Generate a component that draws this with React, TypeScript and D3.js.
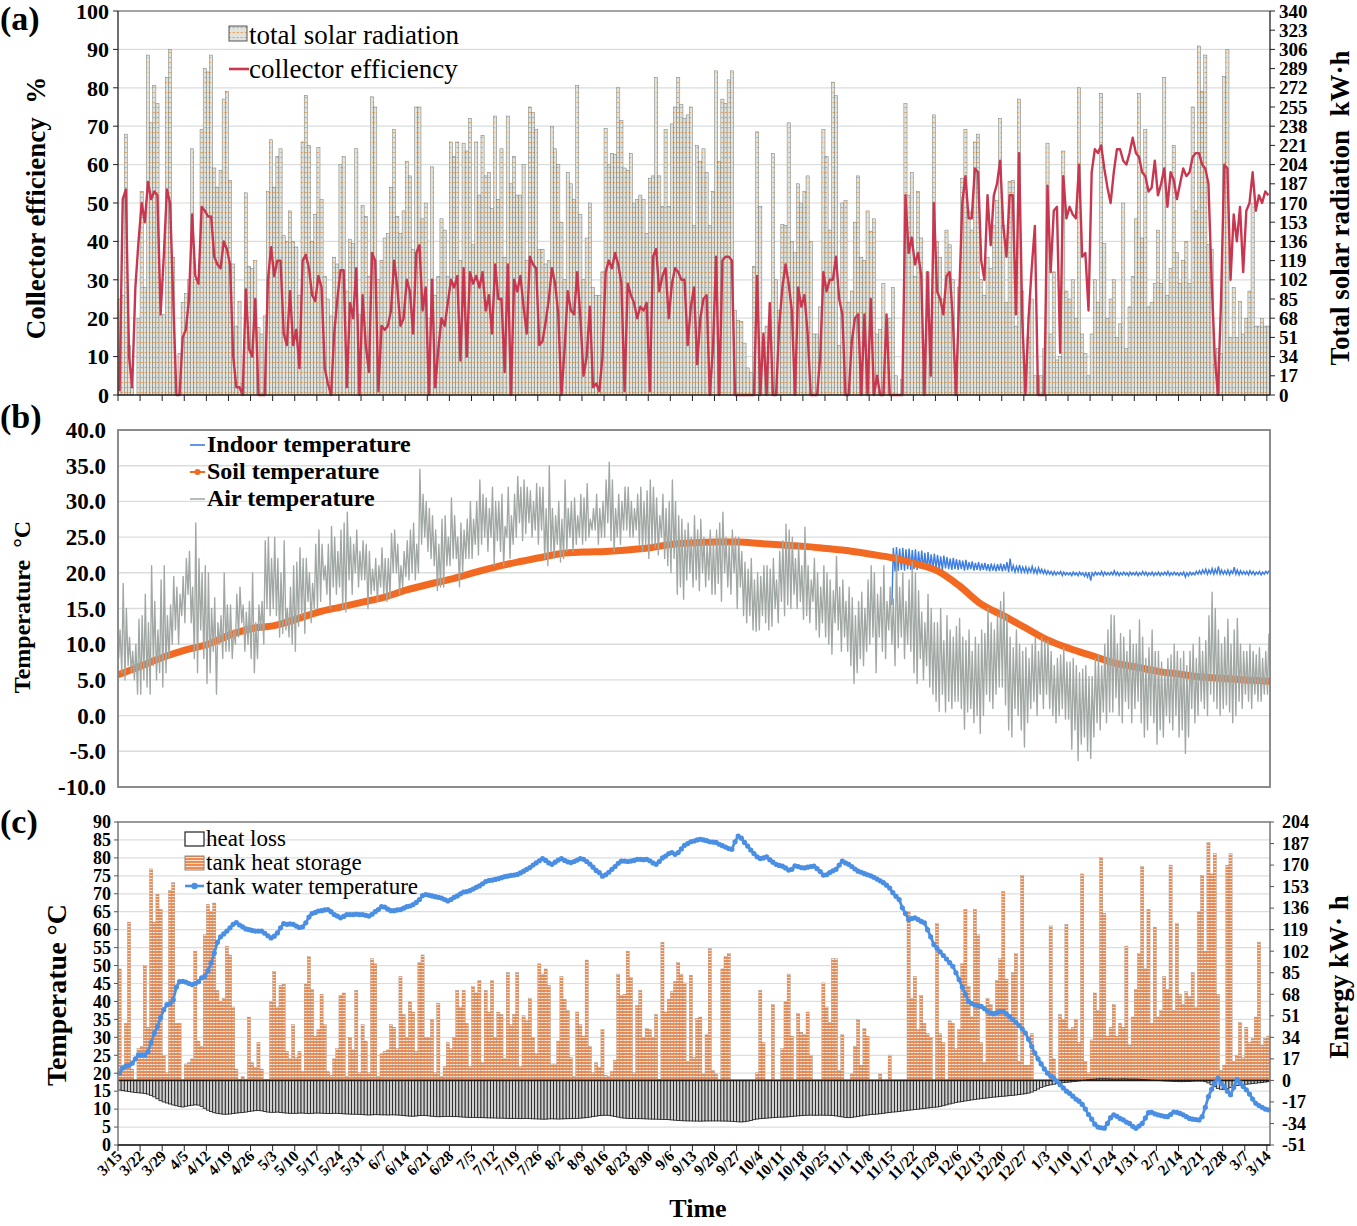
import * as d3 from "d3";

// ---------- tick labels ----------
const dateLabels = [
  "3/15", "3/22", "3/29", "4/5", "4/12", "4/19", "4/26", "5/3", "5/10", "5/17", "5/24", "5/31",
  "6/7", "6/14", "6/21", "6/28", "7/5", "7/12", "7/19", "7/26", "8/2", "8/9", "8/16", "8/23",
  "8/30", "9/6", "9/13", "9/20", "9/27", "10/4", "10/11", "10/18", "10/25", "11/1", "11/8",
  "11/15", "11/22", "11/29", "12/6", "12/13", "12/20", "12/27", "1/3", "1/10", "1/17", "1/24",
  "1/31", "2/7", "2/14", "2/21", "2/28", "3/7", "3/14",
];
const efficiencyTicks = [0, 10, 20, 30, 40, 50, 60, 70, 80, 90, 100];
const solarTicks = [0, 17, 34, 51, 68, 85, 102, 119, 136, 153, 170, 187, 204, 221, 238, 255, 272, 289, 306, 323, 340];
const tempTicks = [-10, -5, 0, 5, 10, 15, 20, 25, 30, 35, 40];
const tankTicks = [0, 5, 10, 15, 20, 25, 30, 35, 40, 45, 50, 55, 60, 65, 70, 75, 80, 85, 90];
const energyTicks = [-51, -34, -17, 0, 17, 34, 51, 68, 85, 102, 119, 136, 153, 170, 187, 204];

// ---------- (a) daily total solar radiation, kW·h (3/15 .. 3/14) ----------
const solarRadiation = [
  85, 88, 231, 44, 7, 0, 68,
  180, 95, 301, 241, 274, 258, 71,
  71, 281, 306, 122, 0, 37, 82,
  90, 102, 218, 102, 99, 235, 289,
  286, 301, 201, 184, 199, 262, 269,
  190, 116, 61, 83, 10, 179, 114,
  112, 119, 60, 54, 70, 180, 226,
  184, 211, 218, 141, 136, 163, 136,
  131, 88, 224, 265, 221, 136, 160,
  219, 173, 105, 85, 70, 122, 116,
  204, 211, 92, 138, 134, 218, 71,
  168, 158, 105, 264, 255, 102, 119,
  139, 143, 184, 235, 158, 143, 163,
  207, 194, 129, 255, 255, 156, 170,
  68, 202, 88, 105, 156, 146, 105,
  224, 211, 224, 119, 223, 216, 245,
  133, 224, 177, 230, 194, 197, 165,
  247, 173, 218, 122, 247, 187, 211,
  177, 177, 204, 119, 255, 250, 235,
  129, 129, 116, 119, 238, 218, 204,
  153, 102, 197, 187, 173, 274, 160,
  102, 139, 170, 95, 88, 88, 109,
  236, 204, 214, 213, 272, 243, 201,
  199, 214, 170, 173, 177, 173, 143,
  192, 194, 281, 194, 167, 235, 167,
  240, 255, 281, 257, 245, 248, 255,
  150, 221, 207, 218, 197, 150, 180,
  287, 207, 262, 258, 279, 287, 75,
  66, 65, 46, 24, 20, 114, 233,
  167, 34, 61, 66, 214, 102, 75,
  151, 150, 241, 136, 126, 187, 170,
  180, 194, 136, 54, 54, 78, 235,
  211, 146, 277, 265, 44, 170, 172,
  82, 92, 153, 194, 122, 119, 163,
  145, 156, 54, 58, 99, 48, 68,
  95, 17, 0, 14, 258, 177, 197,
  105, 180, 139, 20, 109, 27, 248,
  136, 122, 85, 146, 133, 102, 34,
  95, 192, 235, 163, 146, 224, 231,
  102, 88, 122, 112, 150, 172, 245,
  150, 82, 189, 190, 61, 262, 92,
  0, 51, 85, 17, 17, 17, 41,
  223, 54, 109, 31, 34, 216, 92,
  85, 102, 68, 272, 54, 37, 17,
  54, 102, 82, 267, 134, 68, 85,
  102, 51, 63, 170, 41, 78, 105,
  156, 267, 139, 235, 78, 82, 99,
  146, 99, 281, 88, 112, 221, 126,
  99, 119, 136, 99, 255, 163, 309,
  269, 301, 133, 129, 27, 41, 37,
  282, 306, 51, 95, 51, 83, 54,
  68, 92, 170, 61, 61, 68, 61,
  61,
];

// ---------- (a) daily collector efficiency, % ----------
const collectorEfficiency = [
  1, 51, 53.5, 10, 2, 28, 40,
  50, 45, 55.5, 51, 53, 52, 21,
  36, 53.5, 50, 25, 0, 0, 15,
  17, 25, 47, 31, 29, 49, 48,
  46.5, 46.5, 36, 34, 33, 40, 38,
  34, 10, 2, 2, 0, 27.5, 12,
  10, 25, 0, 0, 0, 30, 38.5,
  31, 35, 35, 16, 13, 27, 13,
  17, 7, 35, 36.5, 33, 26, 24.5,
  31, 28, 7, 3, 0, 16, 25,
  32.5, 32.5, 2, 24, 20, 33, 0,
  26, 13, 6, 37, 35, 1, 18,
  17, 18, 22, 35, 28, 18, 20,
  30, 27, 16, 37, 39, 22, 28,
  0, 30, 2, 12, 20, 18, 24,
  30, 28, 31, 9, 33, 10, 32,
  29, 31, 28, 32, 22, 26, 16,
  34, 25, 25, 6, 34, 0, 30,
  27, 31, 23, 16, 36, 34, 33,
  13, 14, 19, 25, 33, 29, 21,
  0, 12, 27, 22, 21, 32, 20,
  5, 10, 23, 2, 3, 1, 10,
  32, 35, 33, 37, 34, 29, 1,
  29, 26, 24, 20, 23, 22, 24,
  1, 36, 38, 27, 31, 33, 20,
  29, 33, 32, 30, 30, 13, 23,
  28, 8, 20, 25, 26, 0, 12,
  36, 0, 35, 36, 36, 35, 0,
  0, 0, 0, 0, 0, 0, 31,
  0, 16, 0, 24, 0, 0, 18,
  28, 34, 29, 22, 0, 28, 23,
  26, 16, 0, 0, 0, 10, 32,
  27, 30, 30, 36, 25, 21, 0,
  0, 14, 20, 21, 0, 21, 0,
  25, 0, 5, 0, 0, 21, 0,
  0, 0, 0, 0, 52, 37, 41,
  34, 37, 31, 0, 32, 5, 50,
  27, 25, 21, 31, 32, 20, 0,
  25, 50, 57, 46, 46, 59, 58,
  35, 30, 52, 39, 52, 55, 61,
  44, 36, 52, 52, 21, 63, 20,
  0, 20, 33, 44, 0, 0, 0,
  54.5, 32, 48, 49, 11, 57, 46,
  49, 47, 46, 60, 36, 37, 22,
  58, 64, 63, 65, 59, 54, 50,
  58, 64, 64, 61, 60, 63, 67,
  63, 62, 58, 57, 53, 54, 61,
  52, 55, 59, 49, 58, 56, 51,
  55, 59, 57, 58, 62, 63, 63,
  60, 59, 55, 30, 10, 0, 25,
  60, 59, 30, 47, 40, 49, 32,
  48, 50, 58, 48, 52, 50, 53,
  52,
];

// ---------- (b) air temperature, daily high / low, °C ----------
const airHigh = [
  12, 18.5, 15, 11, 9, 10, 13.5,
  14, 17, 13, 21, 16, 12, 19,
  21, 14, 15.5, 19.5, 18, 17, 19.5,
  22, 23, 18, 27, 22, 20, 21,
  20, 15, 16.5, 13, 14, 20, 15.5,
  15.5, 12, 17, 18, 15.5, 14.5, 16,
  20, 13, 15.5, 16, 24.5, 25, 22,
  25, 22, 20, 24.5, 15, 18, 21,
  21.5, 23.5, 22, 22, 20, 18.5, 24,
  26, 24, 21, 24, 26.5, 25, 23,
  26, 27, 28.5, 25, 24, 26, 23,
  24.5, 24, 23, 20.5, 22, 21, 23.5,
  22, 22, 25.5, 26, 24, 21, 23,
  24.5, 26, 27, 24, 34.5, 31, 30,
  29, 28, 26, 24, 27.5, 28, 25,
  30.5, 28, 25, 27, 26, 27.5, 30,
  27.5, 30, 33, 31, 30.5, 29, 32,
  30, 30, 31, 26.5, 32, 28, 31,
  33.5, 32, 33, 32, 31.5, 30, 32.5,
  32, 32, 29, 35, 29, 28, 30,
  27.5, 33, 29, 30, 30.5, 28, 31,
  30.5, 32.5, 27.5, 29, 31, 29, 30,
  33, 35.5, 33, 29, 31, 30, 32,
  32, 30, 29, 31, 32, 30, 31.5,
  33, 32, 30.5, 28, 31, 29, 30,
  33, 30, 28, 27.5, 26, 27, 25,
  28, 26, 27.5, 25, 24, 26, 24.5,
  26, 27, 28.5, 25, 24, 26, 25,
  25, 23, 21.5, 20.5, 22, 19, 20,
  19.5, 21, 21, 20.5, 22, 19, 23,
  24.5, 26.8, 26, 25, 22, 24, 21,
  26.4, 21, 19, 22, 20, 18, 21,
  20, 19, 17.5, 22.3, 18, 19, 16,
  18, 16.5, 14, 16, 17.3, 15, 19,
  21, 20, 17, 18, 21, 16, 18,
  16.3, 22.5, 18, 20, 16, 19, 21.5,
  20, 17.5, 14.5, 13, 17, 15, 13,
  13, 15, 10.5, 14, 12, 11, 12.5,
  13.6, 11, 10.5, 12, 9, 11, 10,
  12, 11.5, 15, 13, 12, 14, 16,
  17.3, 14, 11, 9.5, 12, 10, 9,
  9.5, 8, 10, 10.9, 9, 11, 10.5,
  10.5, 9, 7, 8, 8.5, 9.5, 7.5,
  7.5, 8, 7, 6, 6.5, 7, 5.5,
  5.5, 8, 8.5, 7, 10, 12, 14.1,
  14, 10, 11.5, 11, 9, 12, 10,
  10, 13.4, 11, 8, 9.5, 12, 9,
  9, 7.5, 6.5, 8, 8.5, 10, 9,
  8, 9, 7, 9, 10, 8, 11,
  9, 10.5, 14, 17.3, 15, 12, 10,
  11, 13.5, 10, 12, 13.6, 10, 9,
  9, 10, 9, 8.5, 9.5, 8, 9,
  11.5,
];
const airLow = [
  8, 6, 5, 7, 6, 5, 3,
  3, 5, 4, 3, 7, 5, 6,
  4, 6, 8, 10, 12, 10, 14,
  13, 17, 13, 8, 6, 12, 8,
  4.5, 6, 9, 3, 10, 8, 9,
  9, 8, 10, 11, 13, 9, 10,
  8, 6, 8, 12, 10, 15, 14,
  15, 14, 11, 11.5, 12, 11, 10,
  9, 12.5, 14, 11.5, 16, 13, 15,
  15, 16, 19, 17, 15, 18, 17,
  18, 15, 14.5, 19, 17, 20, 18,
  19, 19, 15, 17, 17.5, 16, 18,
  17, 16, 16.5, 20, 20, 17, 18,
  19.5, 19, 20, 19, 20, 24, 25,
  23, 22, 21, 17.5, 18, 18, 21,
  21, 22, 22, 18, 20, 22, 22,
  22, 24, 22.5, 24, 25, 23, 25,
  21, 24.5, 23, 21, 25, 22, 24,
  25, 27, 24.5, 25.5, 27, 25, 26,
  24, 26, 22, 21, 23, 22, 24,
  21.5, 22, 23, 25, 23, 24, 25,
  24, 24.5, 25, 26, 26, 24, 25,
  25, 27, 24.5, 23, 25, 24, 26,
  26, 25, 25, 26, 24, 23, 24,
  22, 24, 23.5, 22.5, 25, 22, 21,
  20, 22, 17, 18, 16.3, 19, 20,
  18, 19, 17.5, 20, 18, 19, 17,
  17, 18.5, 16, 20, 18, 17, 20,
  15, 18, 14, 13, 14, 12, 11.8,
  12, 14, 13, 12, 12.5, 15, 13,
  16, 14, 15.5, 15, 17, 15, 16,
  13.5, 14, 13, 16, 12, 11, 13,
  11, 10, 8.6, 13, 12, 9, 11,
  9, 7, 4.5, 6, 8, 7, 9,
  10, 11, 6, 11, 9, 8, 12,
  10, 7, 9.5, 11, 8, 10, 9,
  6, 4.5, 8, 5, 7, 4, 3,
  2, 0.6, 3, 0.5, 2, 1, 2,
  2, 1, -1.9, 0.5, 1, -1, 0,
  -2.5, 0, 3, 2, 1, 3, 4,
  4, 1.5, -2, -3, 1, 0, -2,
  -4.4, -1, 1, 2, 0, 3, 1,
  3, 1, 0, -1, 0, 1, -0.5,
  -0.5, -4.7, -2, -6.3, -4, -3, -5,
  -6, -3, -1, -2, 0.5, -1, 0.5,
  0.5, 2.5, 0, -1, 2, 1, -1,
  1, 2, -1, -3, -2, 0, -1,
  -4, -2, -3, 0, -1, -2, 0,
  -3, -2, -5.3, -3, 1, -1, 0,
  2, 1, 0, 3, 2, 1, 0,
  1, 1.5, 0.5, -1, 0, 2, 1,
  3, 2, 1, 3, 2, 2, 3,
  3,
];

// ---------- (b) soil temperature, read at each weekly tick, °C ----------
const soilWeekly = [
  5.8, 7, 8.2, 9.2, 10, 11.3, 12.2, 12.6, 13.5, 14.5, 15.2, 15.9, 16.6, 17.6, 18.4, 19.1,
  20, 20.8, 21.5, 22.1, 22.7, 22.9, 23, 23.2, 23.5, 24, 24.2, 24.3, 24.3, 24.1, 23.9, 23.7,
  23.4, 23.1, 22.6, 22.1, 21.3, 20.3, 18.2, 15.6, 14, 12.3, 10.6, 9.4, 8.4, 7.4, 6.8, 6.2,
  5.8, 5.4, 5.2, 5, 4.8,
];

// ---------- (b) indoor temperature from 11/15, daily high / low, °C ----------
const indoorStart = 245;
const indoorHigh = [
  23.5,
  23.6, 23.4, 23.5, 23.3, 23.4, 23.2,
  23.3, 23, 23.1, 22.8, 22.9, 22.6, 22.7,
  22.5, 22.3, 22.4, 22.2, 22, 22.1, 21.9,
  21.8, 21.7, 21.8, 21.5, 21.6, 21.4, 21.5,
  21.3, 21.4, 21.2, 21.3, 21.1, 21.2, 21.3,
  21.2, 21.5, 22, 21, 20.9, 21.1, 20.8,
  20.8, 20.7, 20.9, 20.6, 20.7, 20.5, 20.4,
  20.3, 20.2, 20.2, 20.1, 20.2, 20.1, 20,
  20, 20.1, 20, 20.1, 20, 20, 20.1,
  20, 20.1, 20, 20.2, 20.1, 20, 20.1,
  20.3, 20.1, 20, 20.1, 20, 20.1, 20,
  20.1, 20, 20.2, 20.1, 20, 20.1, 20,
  20.1, 20, 20.1, 20.2, 20, 20.1, 20,
  20, 20.1, 20, 20.1, 20, 20.2, 20.3,
  20.4, 20.5, 20.4, 20.6, 20.5, 20.9, 20.4,
  20.3, 20.4, 20.3, 20.8, 20.4, 20.3, 20.2,
  20.2, 20.3, 20.2, 20.1, 20.2, 20.1, 20.2, 20.3,
];
const indoorLow = [
  15.5,
  20.2, 20.3, 20.4, 20.3, 20.5, 20.4,
  20.5, 20.4, 20.6, 20.5, 20.4, 20.6, 20.5,
  20.6, 20.5, 20.4, 20.6, 20.5, 20.4, 20.5,
  20.4, 20.5, 20.3, 20.4, 20.5, 20.3, 20.4,
  20.3, 20.4, 20.3, 20.2, 20.3, 20.2, 20.3,
  20.2, 20.3, 20.1, 20.2, 20.1, 20.2, 20.1,
  20.1, 20, 20.1, 20, 19.9, 20, 19.9,
  19.8, 19.8, 19.7, 19.7, 19.8, 19.6, 19.7,
  19.7, 19.6, 19.7, 19.6, 19.7, 19.5, 19.4,
  18.9, 19.6, 19.7, 19.7, 19.6, 19.7, 19.7,
  19.7, 19.7, 19.6, 19.7, 19.7, 19.6, 19.7,
  19.7, 19.6, 19.7, 19.7, 19.6, 19.7, 19.6,
  19.7, 19.6, 19.7, 19.7, 19.6, 19.7, 19.7,
  19.6, 19.7, 19.4, 19.6, 19.7, 19.7, 19.8,
  19.8, 19.9, 19.8, 19.9, 19.8, 19.9, 19.8,
  19.8, 19.8, 19.7, 19.9, 19.8, 19.7, 19.8,
  19.8, 19.7, 19.8, 19.7, 19.8, 19.7, 19.8, 19.9,
];

// ---------- (c) daily tank heat storage, kW·h ----------
const heatStorage = [
  88, 9, 45, 125, 9, 0, 25,
  27, 91, 42, 167, 125, 147, 135,
  20, 6, 150, 156, 45, 45, 0,
  13, 14, 17, 102, 31, 27, 115,
  139, 133, 140, 71, 62, 65, 106,
  99, 58, 9, 1, 3, 1, 50,
  14, 10, 30, 9, 1, 1, 62,
  86, 58, 75, 76, 23, 17, 44,
  18, 23, 7, 76, 98, 72, 35,
  40, 68, 44, 7, 4, 17, 25,
  67, 69, 3, 34, 24, 71, 6,
  44, 31, 6, 96, 92, 3, 21,
  23, 24, 44, 42, 25, 82, 52,
  34, 62, 54, 23, 93, 99, 34,
  34, 48, 6, 61, 3, 11, 30,
  25, 34, 71, 58, 71, 45, 11,
  74, 69, 79, 14, 71, 54, 79,
  34, 54, 52, 17, 85, 44, 52,
  85, 11, 51, 47, 65, 34, 21,
  92, 84, 88, 75, 13, 13, 31,
  82, 64, 55, 18, 3, 54, 44,
  35, 95, 27, 6, 14, 10, 40,
  4, 3, 7, 16, 84, 67, 68,
  102, 81, 6, 59, 71, 34, 41,
  40, 34, 52, 1, 109, 54, 64,
  70, 78, 93, 84, 77, 15, 83,
  18, 49, 50, 5, 36, 104, 8,
  5, 0, 88, 98, 100, 0, 0,
  0, 0, 0, 0, 0, 0, 6,
  71, 30, 0, 0, 60, 0, 0,
  25, 62, 84, 35, 0, 53, 38,
  36, 54, 20, 0, 0, 0, 77,
  58, 46, 96, 96, 8, 36, 0,
  0, 5, 27, 48, 12, 41, 35,
  0, 0, 0, 5, 0, 0, 20,
  0, 0, 0, 0, 0, 133, 65,
  82, 40, 67, 45, 37, 34, 0,
  124, 37, 30, 0, 47, 45, 25,
  40, 92, 135, 74, 50, 135, 115,
  30, 14, 65, 60, 52, 79, 96,
  149, 80, 48, 85, 100, 15, 162,
  12, 12, 37, 0, 0, 0, 0,
  0, 122, 17, 0, 52, 48, 123,
  40, 42, 48, 30, 163, 15, 6,
  32, 69, 55, 176, 132, 35, 42,
  60, 35, 45, 42, 106, 28, 50,
  72, 100, 169, 88, 135, 45, 121,
  50, 55, 82, 72, 170, 55, 124,
  68, 60, 70, 66, 85, 58, 133,
  162, 102, 188, 163, 179, 68, 8,
  12, 170, 179, 15, 20, 46, 18,
  42, 30, 33, 50, 109, 28, 33,
  35,
];

// ---------- (c) daily heat loss, kW·h ----------
const heatLoss = [
  -7.6, -8, -8.4, -8.8, -9.2, -9.6, -9.8,
  -10, -10.4, -10.8, -11.8, -13, -14.5, -16,
  -17, -17.8, -18.6, -19.4, -20, -20.6, -21,
  -20.4, -20, -19.6, -19.3, -19.5, -20.5, -22,
  -23.5, -24.6, -25.5, -26, -26.4, -26.7, -26.7,
  -26.5, -26.2, -25.8, -25.5, -25.3, -25, -24.6,
  -24.2, -23.9, -23.8, -24, -24.5, -25, -25.2,
  -25.2, -25, -25.3, -25.6, -25.8, -26, -26,
  -26, -25.8, -25.8, -26, -26.1, -26, -25.8,
  -25.8, -25.9, -26, -26.1, -26.2, -26, -26,
  -26.2, -26.4, -26.5, -26.6, -26.7, -26.7, -26.8,
  -27, -27.2, -27.3, -27.2, -27, -27.1, -27.2,
  -27.2, -27.3, -27.2, -27.2, -27.3, -27.5, -27.8,
  -28, -28.2, -28.3, -28.1, -27.8, -27.7, -27.8,
  -28, -28.3, -28.5, -28.7, -28.6, -28.5, -28.4,
  -28.5, -28.6, -28.6, -28.8, -29, -29.1, -29.2,
  -29.2, -29.3, -29.4, -29.4, -29.5, -29.6, -29.6,
  -29.7, -29.8, -29.8, -29.9, -30, -30, -30.1,
  -30.1, -30.2, -30.1, -30.1, -30.2, -30.3, -30.4,
  -30.5, -30.6, -30.6, -30.4, -30.3, -30.4, -30.5,
  -30.4, -30.3, -30.2, -30.2, -30.1, -30, -29.8,
  -29.6, -29.4, -29, -28.6, -28.2, -27.8, -27.6,
  -27.5, -27.6, -28, -28.5, -29, -29.5, -29.8,
  -30, -30.1, -30.1, -30.2, -30.2, -30.3, -30.4,
  -30.5, -30.6, -30.6, -30.7, -30.8, -30.9, -31,
  -31.2, -31.4, -31.6, -31.8, -31.9, -32, -32,
  -32.1, -32.1, -32.2, -32.1, -32, -32, -32,
  -32, -32, -32.1, -32.1, -32.2, -32.3, -32.5,
  -32.7, -32.8, -32.6, -32.2, -31.6, -31, -30.5,
  -30.2, -30, -29.8, -29.6, -29.4, -29.2, -29,
  -29, -28.9, -28.7, -28.5, -28.2, -28, -27.8,
  -27.6, -27.5, -27.4, -27.5, -27.5, -27.4, -27.5,
  -27.5, -27.6, -27.7, -28, -28.4, -28.8, -29.2,
  -29.4, -29.2, -28.8, -28.4, -28, -27.6, -27.3,
  -27, -26.8, -26.6, -26.3, -26, -25.6, -25.3,
  -25, -24.8, -24.5, -24.2, -23.9, -23.6, -23.3,
  -23, -22.7, -22.4, -22.1, -21.8, -21.5, -21.2,
  -21, -20.5, -20, -19.3, -18.6, -18, -17.5,
  -17, -16.6, -16.2, -15.8, -15.4, -15, -14.7,
  -14.4, -14.1, -13.8, -13.5, -13.2, -13, -12.8,
  -12.5, -12.3, -12, -11.8, -11.5, -11.2, -10.8,
  -10.5, -10, -9.2, -8, -6.8, -5.5, -4.6,
  -4, -3.5, -3, -2.6, -2.2, -1.8, -1.5,
  -1.3, -1, -0.7, -0.4, -0.1, 0.2, 0.5,
  0.8, 1, 1.2, 1.3, 1.3, 1.2, 1.1,
  1, 1, 1.1, 1.2, 1.1, 1, 1,
  1, 0.9, 0.8, 0.6, 0.4, 0.2, 0.1,
  0, -0.2, -0.4, -0.5, -0.6, -0.8, -0.9,
  -1, -1, -0.9, -0.8, -0.6, -0.5, -0.5,
  -0.5, -1, -2, -3.5, -5, -6.3, -7,
  -7, -6.5, -5.5, -4.5, -4, -3.8, -3.4,
  -3, -2.8, -2.5, -2.2, -1.9, -1.6, -1.3,
  -1,
];

// ---------- (c) daily tank water temperature, °C ----------
const tankTemp = [
  20, 21.5, 22, 22.2, 22.8, 24, 25.1,
  25.1, 25.1, 26, 28.5, 31.2, 33, 35.5,
  37.7, 39.1, 39.4, 40.5, 44, 45.5, 45.6,
  45.4, 45, 44.7, 45, 45.5, 46.6, 47,
  48.5, 50.7, 53.5, 56.5, 58, 58.8, 59.6,
  60.5, 61.5, 62, 61.3, 60.8, 60.2, 60,
  59.8, 59.6, 59.6, 59.6, 59, 58.3, 57.7,
  58.2, 59.1, 60.5, 61.7, 61.5, 61.6, 61.5,
  61, 60.6, 60.8, 61.9, 63.5, 64.5, 64.8,
  65.2, 65.3, 65.5, 65.6, 65, 64.2, 63.8,
  63.3, 63.7, 64.2, 64.2, 64.2, 64.3, 64.2,
  64.2, 64, 63.8, 64.3, 65, 65.6, 66.4,
  66.3, 65.7, 65.3, 65.3, 65.5, 65.6, 66,
  66.4, 66.6, 67, 67.6, 68.4, 69.5, 69.8,
  69.6, 69.4, 69.2, 69, 68.8, 68.4, 68,
  68.4, 69, 69.4, 70, 70.5, 70.6, 70.9,
  71.3, 71.8, 72.2, 72.8, 73.4, 73.7, 73.8,
  74, 74.2, 74.5, 74.8, 74.9, 75.1, 75.2,
  75.4, 75.8, 76.3, 76.8, 77.3, 78, 78.6,
  79.2, 79.8, 79.3, 78.6, 78.2, 78.8, 79.4,
  79.8, 79.3, 78.9, 78.7, 79, 79.4, 79.8,
  79.6, 79, 78.3, 77.4, 76.5, 75.9, 74.9,
  75.3, 76, 76.8, 77.6, 78.5, 79.1, 79.1,
  79, 79.1, 79.3, 79.6, 79.6, 79.5, 79.6,
  79.2, 78.6, 78.2, 79, 80, 80.5, 81.2,
  81.5, 81, 81.5, 82.5, 83.5, 84, 84.5,
  84.7, 85, 85.2, 85, 84.8, 84.5, 84.4,
  84.3, 83.8, 83.4, 83, 82.6, 82.4, 84.5,
  86.1, 85.5, 84.3, 83.3, 82.2, 81.2, 80.3,
  79.8, 80, 80.3, 79.5, 78.8, 78.2, 77.9,
  77.7, 77.2, 76.6, 76.8, 77.8, 77.6, 77.3,
  77.2, 77.4, 77.6, 77.7, 77, 76.2, 75.2,
  75.3, 75.9, 76.4, 76.8, 78, 79.1, 78.6,
  78.2, 77.6, 76.9, 76.3, 76, 75.6, 75.3,
  75, 74.6, 74.1, 73.6, 73.1, 72.4, 71.6,
  70.3, 69.3, 68.4, 66.1, 64.5, 62.8, 63.1,
  63.3, 62.8, 62.3, 61.9, 60, 58, 55.9,
  54.8, 53.8, 52.8, 51.8, 50.8, 49.8, 48,
  46.1, 44, 42, 40, 39.4, 39, 38.8,
  38.6, 38, 37.3, 36.8, 36.6, 36.9, 37.2,
  37.2, 36.5, 35.8, 35, 34.2, 33.3, 32.3,
  31.2, 29.5, 27.5, 25.6, 24, 22.6, 21.2,
  20, 19.3, 18.6, 17.8, 16.8, 15.9, 15,
  14.4, 13.6, 12.8, 12.2, 11.3, 10, 8.5,
  7.2, 5.8, 5, 4.8, 4.7, 6, 7.6,
  8.4, 8, 7.4, 7, 6.4, 6, 5.2,
  4.7, 5.3, 6, 7.5, 9, 9.1, 8.7,
  8.4, 8.2, 8, 7.9, 8.5, 9.2, 9.1,
  8.8, 8.4, 7.9, 7.4, 7.2, 7.1, 7,
  7.9, 10.5, 13.5, 15.5, 17.3, 18.6, 17.2,
  16.3, 15, 14, 16, 18.2, 17.3, 16.3,
  15.4, 14.2, 12.8, 11.6, 11, 10.5, 10,
  9.8,
];

const FONT = "'Liberation Serif', 'Times New Roman', serif";

export default function App() {
  const left = 118;
  const right = 1270;
  const x = d3.scaleLinear().domain([0, 365]).range([left, right]);
  const bw = x(1) - x(0);
  const tickDays = dateLabels.map((_, i) => i * 7);

  // panel (a)
  const aTop = 11, aBot = 395;
  const yEff = d3.scaleLinear().domain([0, 100]).range([aBot, aTop]);
  const ySolar = d3.scaleLinear().domain([0, 340]).range([aBot, aTop]);
  const effPath = d3
    .line<number>()
    .x((_, i) => x(i + 0.5))
    .y((v) => yEff(v))(collectorEfficiency);

  // panel (b)
  const bTop = 430, bBot = 787;
  const yT = d3.scaleLinear().domain([-10, 40]).range([bBot, bTop]);
  const zigzag = (hi: number[], lo: number[], start: number) => {
    const pts: [number, number][] = [];
    hi.forEach((h, i) => {
      pts.push([start + i + 0.2, lo[i]]);
      pts.push([start + i + 0.65, h]);
    });
    return pts;
  };
  const tLine = d3
    .line<[number, number]>()
    .x((d) => x(d[0]))
    .y((d) => yT(d[1]));
  const airPath = tLine(zigzag(airHigh, airLow, 0));
  const indoorPath = tLine(zigzag(indoorHigh, indoorLow, indoorStart));
  const soilPath = d3
    .line<number>()
    .x((_, i) => x(i * 7 + 0.5))
    .y((v) => yT(v))
    .curve(d3.curveMonotoneX)(soilWeekly);

  // panel (c)
  const cTop = 822, cBot = 1145;
  const yTank = d3.scaleLinear().domain([0, 90]).range([cBot, cTop]);
  const yE = d3.scaleLinear().domain([-51, 204]).range([cBot, cTop]);
  const tankPath = d3
    .line<number>()
    .x((_, i) => x(i + 0.5))
    .y((v) => yTank(v))(tankTemp);

  const tickFont = { fontFamily: FONT, fontWeight: 700 } as const;

  return (
    <svg
      width={1357}
      height={1226}
      viewBox="0 0 1357 1226"
      style={{ position: "absolute", left: 0, top: 0, background: "#fff" }}
    >
      <defs>
        <pattern id="solarPat" width={4} height={5} patternUnits="userSpaceOnUse">
          <rect width={4} height={5} fill="#dfe4e0" />
          <rect x={0.6} y={2} width={2.2} height={1.1} fill="#f2a04a" />
        </pattern>
        <pattern id="storePat" width={4} height={3} patternUnits="userSpaceOnUse">
          <rect width={4} height={3} fill="#f08a4e" />
          <rect y={2} width={4} height={1} fill="#fbe1cf" />
        </pattern>
        <clipPath id="clipB">
          <rect x={left} y={bTop} width={right - left} height={bBot - bTop} />
        </clipPath>
      </defs>

      {/* ================= (a) ================= */}
      <text x={0} y={30} fontFamily={FONT} fontWeight={700} fontSize={34}>(a)</text>
      {efficiencyTicks.slice(1).map((t) => (
        <line key={`ga${t}`} x1={left} x2={right} y1={yEff(t)} y2={yEff(t)} stroke="#d9dedb" strokeWidth={1.2} />
      ))}
      <line x1={left} x2={right} y1={aTop} y2={aTop} stroke="#8c8c8c" strokeWidth={1.6} />
      {solarRadiation.map((v, i) => (
        <rect
          key={`s${i}`}
          x={x(i)}
          y={ySolar(v)}
          width={bw}
          height={ySolar(0) - ySolar(v)}
          fill="url(#solarPat)"
          stroke="#737a75"
          strokeWidth={0.5}
        />
      ))}
      <path d={effPath ?? ""} fill="none" stroke="#c8374f" strokeWidth={2.4} strokeLinejoin="round" />
      <line x1={left} x2={left} y1={aTop} y2={aBot} stroke="#222" strokeWidth={1.3} />
      <line x1={right} x2={right} y1={aTop} y2={aBot} stroke="#222" strokeWidth={1.3} />
      <line x1={left} x2={right} y1={aBot} y2={aBot} stroke="#222" strokeWidth={1.5} />
      {tickDays.map((d) => (
        <line key={`ta${d}`} x1={x(d)} x2={x(d)} y1={aBot} y2={aBot + 6} stroke="#222" strokeWidth={1} />
      ))}
      {efficiencyTicks.map((t) => (
        <g key={`la${t}`}>
          <line x1={left - 5} x2={left} y1={yEff(t)} y2={yEff(t)} stroke="#222" />
          <text x={left - 9} y={yEff(t)} dy="0.35em" textAnchor="end" fontSize={22} {...tickFont}>{t}</text>
        </g>
      ))}
      {solarTicks.map((t) => (
        <g key={`ra${t}`}>
          <line x1={right} x2={right + 5} y1={ySolar(t)} y2={ySolar(t)} stroke="#222" />
          <text x={right + 9} y={ySolar(t)} dy="0.35em" fontSize={19} {...tickFont}>{t}</text>
        </g>
      ))}
      <text transform="translate(45,208) rotate(-90)" textAnchor="middle" fontSize={27} {...tickFont} style={{ whiteSpace: "pre" }}>
        Collector efficiency  %
      </text>
      <text transform="translate(1349,208) rotate(-90)" textAnchor="middle" fontSize={27} {...tickFont} style={{ whiteSpace: "pre" }}>
        Total solar radiation  kW·h
      </text>
      <rect x={229} y={26} width={18} height={15} fill="url(#solarPat)" stroke="#555" strokeWidth={1} />
      <text x={249} y={44} fontFamily={FONT} fontSize={27}>total solar radiation</text>
      <line x1={229} x2={249} y1={69} y2={69} stroke="#c8374f" strokeWidth={2.6} />
      <text x={249} y={78} fontFamily={FONT} fontSize={27}>collector efficiency</text>

      {/* ================= (b) ================= */}
      <text x={0} y={428} fontFamily={FONT} fontWeight={700} fontSize={34}>(b)</text>
      {tempTicks.slice(1, -1).map((t) => (
        <line key={`gb${t}`} x1={left} x2={right} y1={yT(t)} y2={yT(t)} stroke="#d9dedb" strokeWidth={1.4} />
      ))}
      <g clipPath="url(#clipB)">
        <path d={indoorPath ?? ""} fill="none" stroke="#3b7de3" strokeWidth={1.4} />
        <path d={soilPath ?? ""} fill="none" stroke="#f26a22" strokeWidth={7} strokeLinecap="round" />
        <path d={airPath ?? ""} fill="none" stroke="#a1a8a4" strokeWidth={1.35} strokeLinejoin="round" />
      </g>
      <rect x={left} y={bTop} width={right - left} height={bBot - bTop} fill="none" stroke="#808080" strokeWidth={1.8} />
      {tempTicks.map((t) => (
        <text key={`lb${t}`} x={left - 12} y={yT(t)} dy="0.35em" textAnchor="end" fontSize={23} {...tickFont}>
          {t.toFixed(1)}
        </text>
      ))}
      <text transform="translate(30,607) rotate(-90)" textAnchor="middle" fontSize={24} {...tickFont} style={{ whiteSpace: "pre" }}>
        Temperature  °C
      </text>
      <line x1={190} x2={205} y1={445} y2={445} stroke="#3b7de3" strokeWidth={1.6} />
      <text x={207} y={452} fontSize={24} {...tickFont}>Indoor temperature</text>
      <line x1={190} x2={205} y1={472} y2={472} stroke="#f26a22" strokeWidth={2} />
      <circle cx={197.5} cy={472} r={3} fill="#f26a22" />
      <text x={207} y={479} fontSize={24} {...tickFont}>Soil temperature</text>
      <line x1={190} x2={205} y1={499} y2={499} stroke="#a4aba7" strokeWidth={1.6} />
      <text x={207} y={506} fontSize={24} {...tickFont}>Air temperature</text>

      {/* ================= (c) ================= */}
      <text x={0} y={833} fontFamily={FONT} fontWeight={700} fontSize={34}>(c)</text>
      {tankTicks.slice(1, -1).map((t) => (
        <line key={`gc${t}`} x1={left} x2={right} y1={yTank(t)} y2={yTank(t)} stroke="#dcdfdd" strokeWidth={1.2} />
      ))}
      {heatStorage.map((v, i) => (
        <rect
          key={`h${i}`}
          x={x(i)}
          y={yE(v)}
          width={bw}
          height={yE(0) - yE(v)}
          fill="url(#storePat)"
          stroke="#9c8f86"
          strokeWidth={0.4}
        />
      ))}
      {heatLoss.map((v, i) => (
        <rect
          key={`l${i}`}
          x={x(i)}
          y={Math.min(yE(v), yE(0))}
          width={bw}
          height={Math.abs(yE(0) - yE(v))}
          fill="#cfcfcf"
          stroke="#1f1f1f"
          strokeWidth={0.85}
        />
      ))}
      <line x1={left} x2={right} y1={yE(0)} y2={yE(0)} stroke="#1a1a1a" strokeWidth={1.6} />
      <path d={tankPath ?? ""} fill="none" stroke="#4a8fe3" strokeWidth={2.8} strokeLinejoin="round" />
      {tankTemp.map((v, i) => (
        <circle key={`c${i}`} cx={x(i + 0.5)} cy={yTank(v)} r={2.6} fill="#4a8fe3" />
      ))}
      <rect x={left} y={cTop} width={right - left} height={cBot - cTop} fill="none" stroke="#808080" strokeWidth={1.6} />
      <line x1={left} x2={right} y1={cBot} y2={cBot} stroke="#222" strokeWidth={1.6} />
      {tickDays.map((d, i) => (
        <g key={`tc${d}`}>
          <line x1={x(d)} x2={x(d)} y1={cBot} y2={cBot + 6} stroke="#222" strokeWidth={1} />
          <text
            transform={`translate(${x(d) + 5},${cBot + 12}) rotate(-45)`}
            textAnchor="end"
            fontSize={15.5}
            {...tickFont}
          >
            {dateLabels[i]}
          </text>
        </g>
      ))}
      {tankTicks.map((t) => (
        <g key={`lc${t}`}>
          <line x1={left - 4} x2={left} y1={yTank(t)} y2={yTank(t)} stroke="#555" />
          <text x={left - 7} y={yTank(t)} dy="0.35em" textAnchor="end" fontSize={18} {...tickFont}>{t}</text>
        </g>
      ))}
      {energyTicks.map((t) => (
        <g key={`rc${t}`}>
          <line x1={right} x2={right + 4} y1={yE(t)} y2={yE(t)} stroke="#555" />
          <text x={right + 12} y={yE(t)} dy="0.35em" fontSize={18} {...tickFont}>{t}</text>
        </g>
      ))}
      <text transform="translate(66,995) rotate(-90)" textAnchor="middle" fontSize={28} {...tickFont}>
        Temperatue °C
      </text>
      <text transform="translate(1348,977) rotate(-90)" textAnchor="middle" fontSize={27} {...tickFont}>
        Energy kW· h
      </text>
      <text x={698} y={1217} textAnchor="middle" fontSize={26} {...tickFont}>Time</text>
      <rect x={185} y={832} width={19} height={14} fill="#fff" stroke="#222" strokeWidth={1.2} />
      <text x={206} y={846} fontFamily={FONT} fontSize={23}>heat loss</text>
      <rect x={185} y={856} width={19} height={14} fill="url(#storePat)" stroke="#888" strokeWidth={1} />
      <text x={206} y={870} fontFamily={FONT} fontSize={23}>tank heat storage</text>
      <line x1={185} x2={204} y1={886} y2={886} stroke="#4a8fe3" strokeWidth={2.6} />
      <circle cx={194.5} cy={886} r={3.2} fill="#4a8fe3" />
      <text x={206} y={894} fontFamily={FONT} fontSize={23}>tank water temperature</text>
    </svg>
  );
}
